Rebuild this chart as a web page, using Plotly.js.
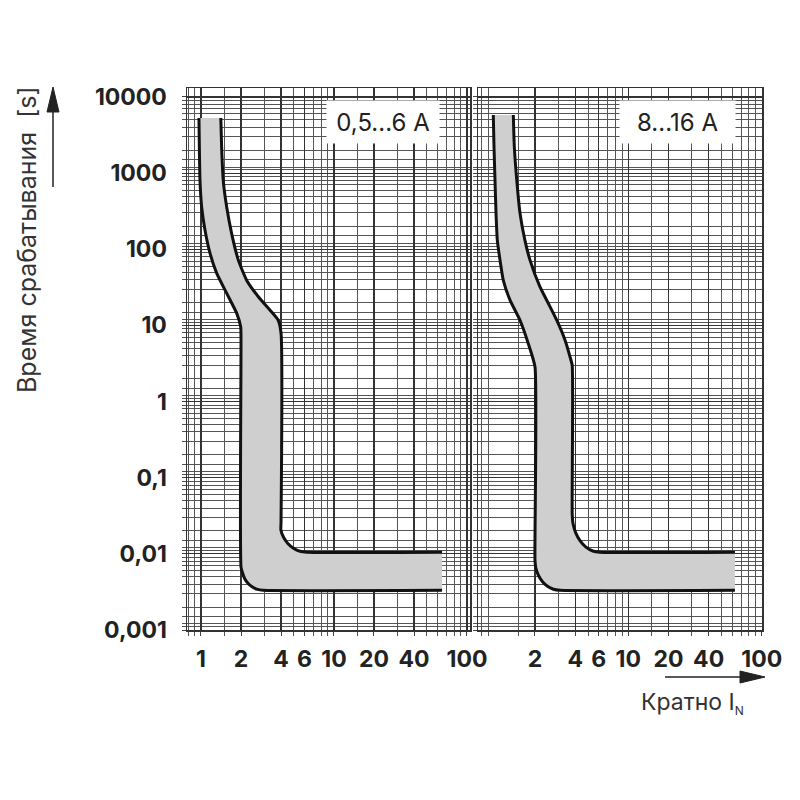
<!DOCTYPE html>
<html>
<head>
<meta charset="utf-8">
<script src="https://cdn.plot.ly/plotly-3.0.1.min.js"></script>
<style>html,body{margin:0;padding:0;background:#fff;}#chart{width:800px;height:800px;}</style>
</head>
<body>
<div id="chart"></div>
<script>
// ---- tick labels ----
const yTickVals = [0.001, 0.01, 0.1, 1, 10, 100, 1000, 10000];
const yTickText = ['0,001', '0,01', '0,1', '1', '10', '100', '1000', '10000'];
const xTickVals1 = [1, 2, 4, 6, 10, 20, 40, 100];
const xTickText1 = ['1', '2', '4', '6', '10', '20', '40', '100'];
const xTickVals2 = [2, 4, 6, 10, 20, 40, 100];
const xTickText2 = ['2', '4', '6', '10', '20', '40', '100'];

// ---- log-paper grid lines ----
const xGridLines = [0.8, 0.9, 1.5, 2, 3, 4, 5, 6, 7, 8, 9, 15, 20, 30, 40, 50, 60, 70, 80, 90];
const yDecades = [0.001, 0.01, 0.1, 1, 10, 100, 1000];
const yMultipliers = [1.1, 1.2, 1.5, 2, 3, 4, 5, 6, 7, 8, 9];

// ---- panel 1: 0,5...6 A ----
const p1LowerX = [0.966, 0.983, 1.012, 1.072, 1.169, 1.312, 1.56, 1.855, 1.989, 2.0,
                  2.0, 2.058, 2.134, 2.264, 2.439, 2.665, 2.93, 65];
const p1LowerY = [5300, 811, 361, 179, 89, 48.7, 26.5, 14.5, 9.6, 6.4,
                  0.0067, 0.00556, 0.00471, 0.00407, 0.00366, 0.00341, 0.00332, 0.00332];
const p1UpperX = [1.41, 1.43, 1.47, 1.56, 1.70, 1.91, 2.21, 2.70, 3.30, 3.81, 4.0,
                  4.0, 3.99, 4.18, 4.50, 4.96, 5.55, 6.27, 65];
const p1UpperY = [5300, 2222, 811, 361, 162, 72, 39, 23.8, 15.9, 11.7, 7.9,
                  0.026, 0.0206, 0.0165, 0.01368, 0.01183, 0.0108, 0.0105, 0.0105];

// ---- panel 2: 8...16 A ----
const p2LowerX = [0.974, 0.986, 1.003, 1.021, 1.044, 1.094, 1.158, 1.30, 1.545, 1.78, 2.0,
                  2.0, 2.03, 2.12, 2.27, 2.48, 2.75, 3.08, 63];
const p2LowerY = [5800, 2222, 811, 296, 132, 72, 39, 21.5, 11.7, 5.8, 2.86,
                  0.0082, 0.0065, 0.00524, 0.00434, 0.00375, 0.00343, 0.00332, 0.00332];
const p2UpperX = [1.376, 1.40, 1.46, 1.545, 1.68, 1.835, 2.18, 2.52, 2.91, 3.36, 3.66, 3.8,
                  3.8, 3.85, 4.04, 4.36, 4.82, 5.42, 6.14, 63];
const p2UpperY = [5800, 2222, 811, 296, 132, 72, 32, 19.4, 11.7, 6.4, 3.87, 3.0,
                  0.0338, 0.0252, 0.0189, 0.01483, 0.01228, 0.0109, 0.0105, 0.0105];

const panelLabels = ['0,5...6 A', '8...16 A'];
const yTitle = 'Время срабатывания\u00a0\u00a0[s]';
const xTitle = 'Кратно I<sub><span style="font-size:12px">N</span></sub>';

// build grid values
const yGridLines = [];
yDecades.forEach(d => yMultipliers.forEach(m => yGridLines.push(+(d * m).toPrecision(4))));

const FILL = '#cfcfcf';
const LINE = '#111111';

function band(lx, ly, ux, uy, xa, ya) {
  return [
    {x: lx.concat(ux.slice().reverse()), y: ly.concat(uy.slice().reverse()),
     type: 'scatter', mode: 'lines', fill: 'toself', fillcolor: FILL,
     line: {width: 0, color: FILL}, xaxis: xa, yaxis: ya, hoverinfo: 'skip'},
    {x: lx, y: ly, type: 'scatter', mode: 'lines', line: {color: LINE, width: 3, shape: 'spline', smoothing: 0.5},
     xaxis: xa, yaxis: ya},
    {x: ux, y: uy, type: 'scatter', mode: 'lines', line: {color: LINE, width: 3, shape: 'spline', smoothing: 0.5},
     xaxis: xa, yaxis: ya}
  ];
}

const data = [].concat(
  band(p1LowerX, p1LowerY, p1UpperX, p1UpperY, 'x', 'y'),
  band(p2LowerX, p2LowerY, p2UpperX, p2UpperY, 'x2', 'y2')
);

const FONT = 'Inter, Liberation Sans, Arial, sans-serif';
const tickFont = {family: FONT, size: 23, color: '#222', weight: 700};

function xAxis(domain, range, vals, text, anchor) {
  return {
    type: 'log', domain: domain, range: range, anchor: anchor,
    tickmode: 'array', tickvals: vals, ticktext: text, tickfont: tickFont,
    ticks: 'outside', ticklen: 4, tickcolor: '#444', tickwidth: 1,
    ticklabelstandoff: 4,
    showgrid: true, gridcolor: '#333', gridwidth: 1.2,
    minor: {tickmode: 'array', tickvals: xGridLines, showgrid: true, gridcolor: '#555', gridwidth: 1,
            ticks: 'outside', ticklen: 4, tickcolor: '#555'},
    showline: true, mirror: true, linecolor: '#333', linewidth: 1.5,
    zeroline: false, automargin: false, fixedrange: true
  };
}
function yAxis(anchor, showLabels) {
  return {
    type: 'log', domain: [170 / 800, 712 / 800], range: [-3, 4.118], anchor: anchor,
    tickmode: 'array', tickvals: yTickVals, ticktext: yTickText, tickfont: tickFont,
    showticklabels: showLabels,
    ticks: 'outside', ticklen: 4, tickcolor: '#444', tickwidth: 1,
    ticklabelstandoff: 10,
    showgrid: true, gridcolor: '#333', gridwidth: 1.2,
    minor: {tickmode: 'array', tickvals: yGridLines, showgrid: true, gridcolor: '#555', gridwidth: 1,
            ticks: 'outside', ticklen: 4, tickcolor: '#555'},
    showline: true, mirror: true, linecolor: '#333', linewidth: 1.5,
    zeroline: false, automargin: false, fixedrange: true
  };
}

function P(px) { return px / 800; }
function Q(py) { return (800 - py) / 800; }

const layout = {
  width: 800, height: 800,
  margin: {l: 0, r: 0, t: 0, b: 0},
  paper_bgcolor: '#ffffff', plot_bgcolor: '#ffffff',
  showlegend: false,
  font: {family: FONT, color: '#222'},
  xaxis: xAxis([P(187), P(470)], [-0.105, 2.023], xTickVals1, xTickText1, 'y'),
  xaxis2: xAxis([P(478), P(762)], [-0.126, 2.002], xTickVals2, xTickText2, 'y2'),
  yaxis: yAxis('x', true),
  yaxis2: yAxis('x2', false),
  annotations: [
    {text: panelLabels[0], xref: 'paper', yref: 'paper', x: P(383), y: Q(122),
     xanchor: 'center', yanchor: 'middle', showarrow: false, bgcolor: '#ffffff',
     width: 110, height: 40, font: {size: 24, color: '#222'}},
    {text: panelLabels[1], xref: 'paper', yref: 'paper', x: P(677), y: Q(122),
     xanchor: 'center', yanchor: 'middle', showarrow: false, bgcolor: '#ffffff',
     width: 113, height: 40, font: {size: 24, color: '#222'}},
    {text: yTitle, xref: 'paper', yref: 'paper', x: P(27), y: Q(240), textangle: -90,
     xanchor: 'center', yanchor: 'middle', showarrow: false, font: {size: 25, color: '#333'}},
    {text: xTitle, xref: 'paper', yref: 'paper', x: P(692), y: Q(703),
     xanchor: 'center', yanchor: 'middle', showarrow: false, font: {size: 23, color: '#333'}}
  ],
  shapes: [
    {type: 'line', xref: 'paper', yref: 'paper', x0: P(53), x1: P(53), y0: Q(187), y1: Q(108),
     line: {color: '#222', width: 1.5}},
    {type: 'path', xref: 'paper', yref: 'paper',
     path: 'M ' + P(53) + ' ' + Q(87) + ' L ' + P(47) + ' ' + Q(112) + ' L ' + P(59) + ' ' + Q(112) + ' Z',
     fillcolor: '#222', line: {color: '#222', width: 1}},
    {type: 'line', xref: 'paper', yref: 'paper', x0: P(665), x1: P(744), y0: Q(677), y1: Q(677),
     line: {color: '#222', width: 1.5}},
    {type: 'path', xref: 'paper', yref: 'paper',
     path: 'M ' + P(765) + ' ' + Q(677) + ' L ' + P(740) + ' ' + Q(671) + ' L ' + P(740) + ' ' + Q(683) + ' Z',
     fillcolor: '#222', line: {color: '#222', width: 1}}
  ]
};

Plotly.newPlot('chart', data, layout, {staticPlot: true, displayModeBar: false});
</script>
</body>
</html>
